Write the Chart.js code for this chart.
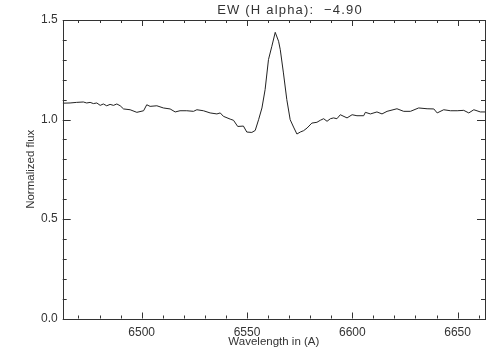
<!DOCTYPE html>
<html>
<head>
<meta charset="utf-8">
<script src="https://cdn.jsdelivr.net/npm/chart.js@4/dist/chart.umd.min.js"></script>
<style>
html,body{margin:0;padding:0;background:#fff;}
#wrap{width:504px;height:360px;position:relative;}
</style>
</head>
<body>
<div id="wrap"><canvas id="c" width="504" height="360"></canvas></div>
<script>
// ---- data ----
const titleText = "EW (H alpha):  \u22124.90";
const xTitle = "Wavelength in (A)";
const yTitle = "Normalized flux";

const wavelength = [
  6462.5, 6466.0, 6469.1, 6472.3, 6473.9, 6475.5, 6477.1, 6478.7, 6480.3, 6481.8,
  6483.4, 6485.0, 6486.6, 6488.2, 6489.8, 6491.4, 6494.5, 6497.7, 6500.9, 6502.4,
  6504.0, 6507.2, 6510.3, 6513.5, 6515.9, 6518.2, 6521.4, 6524.6, 6526.2, 6529.3,
  6532.5, 6535.7, 6537.3, 6538.8, 6542.0, 6543.6, 6545.6, 6548.3, 6549.9, 6552.3,
  6553.9, 6555.5, 6557.1, 6558.6, 6560.2, 6561.8, 6563.4, 6565.0, 6565.8, 6567.3,
  6568.9, 6570.5, 6572.1, 6573.7, 6575.3, 6576.9, 6578.5, 6580.8, 6583.2, 6584.8,
  6586.4, 6588.0, 6589.6, 6591.1, 6592.7, 6594.3, 6597.5, 6599.9, 6602.2, 6605.4,
  6606.2, 6608.6, 6611.7, 6614.1, 6616.5, 6621.2, 6624.4, 6627.6, 6631.5, 6635.5,
  6638.7, 6640.3, 6643.4, 6646.6, 6649.8, 6652.9, 6655.3, 6657.7, 6660.8, 6663.0
];
const flux = [
  1.082, 1.083, 1.086, 1.088, 1.083, 1.086, 1.080, 1.083, 1.071, 1.078,
  1.069, 1.076, 1.071, 1.078, 1.069, 1.053, 1.049, 1.036, 1.044, 1.074,
  1.066, 1.069, 1.058, 1.053, 1.038, 1.044, 1.044, 1.041, 1.049, 1.044,
  1.033, 1.028, 1.033, 1.016, 1.002, 0.996, 0.965, 0.967, 0.937, 0.935,
  0.945, 0.999, 1.058, 1.150, 1.301, 1.368, 1.438, 1.393, 1.351, 1.234,
  1.100, 0.999, 0.962, 0.927, 0.937, 0.944, 0.957, 0.982, 0.986, 0.996,
  1.004, 0.991, 1.004, 1.008, 1.004, 1.024, 1.008, 1.024, 1.019, 1.019,
  1.036, 1.028, 1.038, 1.028, 1.041, 1.054, 1.041, 1.041, 1.058, 1.054,
  1.053, 1.033, 1.049, 1.044, 1.044, 1.046, 1.033, 1.049, 1.038, 1.038
];
const xRange = [6462.5, 6663];
const yRange = [0, 1.5];
const xTickLabels = [6500, 6550, 6600, 6650];
const yTickLabels = [0.0, 0.5, 1.0, 1.5];
const xMajorStep = 50, xMinorStep = 10;
const yMajorStep = 0.5, yMinorStep = 0.1;

const FONT = "'Liberation Sans', Arial, sans-serif";
const INK = '#333';

const framePlugin = {
  id: 'frame',
  afterDatasetsDraw(chart) {
    const {ctx, chartArea: a, scales} = chart;
    const xs = scales.x, ys = scales.y;
    ctx.save();
    ctx.strokeStyle = INK;
    ctx.lineWidth = 1;
    ctx.strokeRect(Math.round(a.left) + 0.5, Math.round(a.top) + 0.5,
                   Math.round(a.right - a.left), Math.round(a.bottom - a.top));
    ctx.beginPath();
    // x ticks (inside, top and bottom)
    const x0 = Math.ceil(xRange[0] / xMinorStep) * xMinorStep;
    for (let v = x0; v <= xRange[1] + 1e-9; v += xMinorStep) {
      const px = Math.round(xs.getPixelForValue(v)) + 0.5;
      const major = Math.abs(v / xMajorStep - Math.round(v / xMajorStep)) < 1e-6;
      const len = major ? 6 : 3;
      ctx.moveTo(px, a.bottom); ctx.lineTo(px, a.bottom - len);
      ctx.moveTo(px, a.top); ctx.lineTo(px, a.top + len);
    }
    // y ticks (inside, left and right)
    const n = Math.round((yRange[1] - yRange[0]) / yMinorStep);
    for (let i = 0; i <= n; i++) {
      const v = yRange[0] + i * yMinorStep;
      const py = Math.round(ys.getPixelForValue(v)) + 0.5;
      const major = Math.abs(v / yMajorStep - Math.round(v / yMajorStep)) < 1e-6;
      const len = major ? 8 : 4;
      ctx.moveTo(a.left, py); ctx.lineTo(a.left + len, py);
      ctx.moveTo(a.right, py); ctx.lineTo(a.right - len, py);
    }
    ctx.stroke();
    // title
    ctx.fillStyle = INK;
    ctx.font = "13px " + FONT;
    try { ctx.letterSpacing = '1.2px'; } catch (e) {}
    ctx.textAlign = 'center';
    ctx.textBaseline = 'middle';
    ctx.fillText(titleText, 290, 10);
    ctx.restore();
  }
};

new Chart(document.getElementById('c'), {
  type: 'line',
  data: {
    datasets: [{
      data: wavelength.map((w, i) => ({x: w, y: flux[i]})),
      borderColor: '#222',
      borderWidth: 1,
      pointRadius: 0,
      tension: 0,
      fill: false
    }]
  },
  options: {
    responsive: false,
    animation: false,
    events: [],
    layout: {padding: {top: 20, right: 19, left: 0, bottom: 0}},
    plugins: {legend: {display: false}, tooltip: {enabled: false}, title: {display: false}},
    scales: {
      x: {
        type: 'linear',
        min: xRange[0], max: xRange[1],
        grid: {display: false, drawTicks: false},
        border: {display: false},
        afterBuildTicks(s) { s.ticks = xTickLabels.map(v => ({value: v})); },
        ticks: {
          autoSkip: false, maxRotation: 0,
          padding: 7, color: INK, font: {family: FONT, size: 12},
          callback: v => String(v)
        },
        title: {display: true, text: xTitle, color: INK, font: {family: FONT, size: 11.5}, padding: {top: 0, bottom: 11}},
        afterFit(s) { s.height = 41.5; }
      },
      y: {
        min: yRange[0], max: yRange[1],
        grid: {display: false, drawTicks: false},
        border: {display: false},
        afterBuildTicks(s) { s.ticks = yTickLabels.map(v => ({value: v})); },
        ticks: {
          autoSkip: false,
          padding: 5, color: INK, font: {family: FONT, size: 12},
          callback: v => Number(v).toFixed(1)
        },
        title: {display: true, text: yTitle, color: INK, font: {family: FONT, size: 11.5}, padding: {top: 24, bottom: 0}},
        afterFit(s) { s.width = 62.7; }
      }
    }
  },
  plugins: [framePlugin]
});
</script>
</body>
</html>
